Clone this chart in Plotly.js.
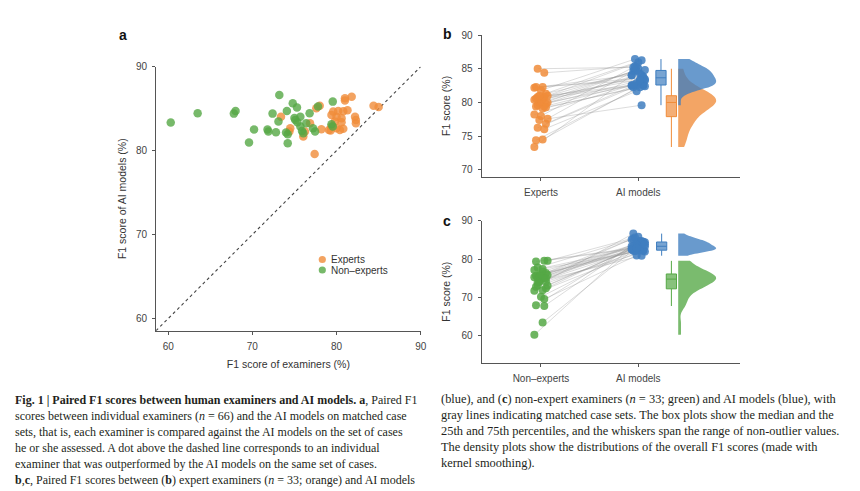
<!DOCTYPE html>
<html><head><meta charset="utf-8">
<script src="https://cdn.plot.ly/plotly-3.0.1.min.js"></script>
<style>html,body{margin:0;padding:0;background:#fff;}#chart{width:860px;height:491px;}</style>
</head><body><div id="chart"></div>
<script>
// ---- data ----
const expertScores   = [73.4, 74.5, 74.4, 76.05, 76.25, 76.85, 77.4, 77.6, 78.0, 78.2, 79.1, 79.4, 79.4, 79.6, 79.8, 80.0, 80.0, 80.2, 80.4, 80.6, 80.6, 80.8, 80.8, 81.3, 81.0, 81.0, 81.8, 82.2, 82.3, 82.3, 84.4, 85.0, 79.3];
const expertAIScores = [84.05, 82.67, 82.27, 81.68, 82.27, 83.27, 79.6, 85.05, 85.36, 82.56, 82.47, 84.26, 82.87, 84.65, 83.46, 84.05, 82.67, 84.73, 82.47, 83.86, 83.38, 84.7, 82.6, 84.8, 86.24, 85.96, 86.43, 84.05, 83.66, 83.27, 85.36, 85.2, 82.4];
const nonExpertScores   = [60.3, 63.5, 68.0, 67.8, 73.2, 72.4, 74.1, 73.1, 70.2, 71.8, 71.9, 72.8, 69.6, 74.0, 74.2, 74.2, 79.55, 74.8, 75.3, 76.8, 75.7, 75.1, 75.35, 76.4, 75.7, 75.9, 76.05, 77.2, 77.45, 79.4, 79.55, 77.8, 75.0];
const nonExpertAIScores = [83.34, 84.46, 84.73, 84.41, 86.64, 84.41, 84.73, 83.46, 82.51, 82.51, 82.27, 82.2, 80.96, 82.15, 81.96, 80.89, 85.84, 85.65, 85.13, 84.46, 84.05, 83.66, 83.39, 83.27, 82.87, 82.35, 82.08, 82.67, 82.27, 83.15, 82.87, 85.25, 83.9];
const groupLabelsB = ['Experts', 'AI models'];
const groupLabelsC = ['Non–experts', 'AI models'];
const legendLabels = ['Experts', 'Non–experts'];
const ticksA = [60, 70, 80, 90];
const ticksB = [70, 75, 80, 85, 90];
const ticksC = [60, 70, 80, 90];
const captionLeft = [
  '<b>Fig. 1 | Paired F1 scores between human examiners and AI models. a</b>, Paired F1',
  'scores between individual examiners (<i>n</i> = 66) and the AI models on matched case',
  'sets, that is, each examiner is compared against the AI models on the set of cases',
  'he or she assessed. A dot above the dashed line corresponds to an individual',
  'examiner that was outperformed by the AI models on the same set of cases.',
  '<b>b</b>,<b>c</b>, Paired F1 scores between (<b>b</b>) expert examiners (<i>n</i> = 33; orange) and AI models'
];
const captionRight = [
  '(blue), and (<b>c</b>) non-expert examiners (<i>n</i> = 33; green) and AI models (blue), with',
  'gray lines indicating matched case sets. The box plots show the median and the',
  '25th and 75th percentiles, and the whiskers span the range of non-outlier values.',
  'The density plots show the distributions of the overall F1 scores (made with',
  'kernel smoothing).'
];

// ---- styling ----
const W = 860, H = 491;
const px = x => x / W, py = y => 1 - y / H;
const ORANGE = '#F08C3A', GREEN = '#55A845', BLUE = '#3F7EBF';
const rgba = (hex, a) => {
  const n = parseInt(hex.slice(1), 16);
  return `rgba(${n >> 16},${(n >> 8) & 255},${n & 255},${a})`;
};
const SANS = 'Liberation Sans, Arial, sans-serif';
const SERIF = 'Liberation Serif, Times New Roman, serif';
const rangeA = [58.55, 90];

// deterministic horizontal jitter for the strip points
const jitA = i => (((i * 5) % 9) - 4) * 0.017;
const jitB = i => (((i * 7) % 9) - 4) * 0.017;

function pairedTraces(hum, ai, color, xa, ya) {
  const lx = [], ly = [];
  hum.forEach((v, i) => { lx.push(jitA(i), 1 + jitB(i), null); ly.push(v, ai[i], null); });
  return [
    {type: 'scatter', mode: 'lines', x: lx, y: ly, xaxis: xa, yaxis: ya, hoverinfo: 'skip',
     line: {color: 'rgba(150,150,150,0.33)', width: 1}, showlegend: false},
    {type: 'scatter', mode: 'markers', x: hum.map((v, i) => jitA(i)), y: hum, xaxis: xa, yaxis: ya,
     marker: {color: color, size: 8, opacity: 0.85}, showlegend: false},
    {type: 'scatter', mode: 'markers', x: ai.map((v, i) => 1 + jitB(i)), y: ai, xaxis: xa, yaxis: ya,
     marker: {color: BLUE, size: 8, opacity: 0.85}, showlegend: false}
  ];
}
function violin(vals, color, xa, ya) {
  return {type: 'violin', y: vals, x0: 1.41, xaxis: xa, yaxis: ya, side: 'positive', width: 0.78,
    spanmode: 'hard', points: false, box: {visible: false}, meanline: {visible: false},
    fillcolor: rgba(color, 0.78), line: {color: rgba(color, 0.0), width: 0}, showlegend: false, hoverinfo: 'skip'};
}
function box(vals, color, pos, xa, ya) {
  return {type: 'box', y: vals, x0: pos, xaxis: xa, yaxis: ya, width: 0.105, boxpoints: 'outliers',
    marker: {opacity: 0, size: 1}, whiskerwidth: 0, fillcolor: rgba(color, 0.7),
    line: {color: color, width: 1}, showlegend: false};
}

const traces = [
  {type: 'scatter', mode: 'lines', x: rangeA, y: rangeA, xaxis: 'x', yaxis: 'y',
   line: {color: '#444', width: 1.1, dash: '3px,3px'}, hoverinfo: 'skip', showlegend: false},
  {type: 'scatter', mode: 'markers', x: expertScores, y: expertAIScores, xaxis: 'x', yaxis: 'y',
   name: legendLabels[0], marker: {color: ORANGE, size: 8.5, opacity: 0.8}, showlegend: false},
  {type: 'scatter', mode: 'markers', x: nonExpertScores, y: nonExpertAIScores, xaxis: 'x', yaxis: 'y',
   name: legendLabels[1], marker: {color: GREEN, size: 8.5, opacity: 0.8}, showlegend: false},
  ...pairedTraces(expertScores, expertAIScores, ORANGE, 'x2', 'y2'),
  violin(expertScores, ORANGE, 'x2', 'y2'),
  violin(expertAIScores, BLUE, 'x2', 'y2'),
  box(expertAIScores, BLUE, 1.233, 'x2', 'y2'),
  box(expertScores, ORANGE, 1.34, 'x2', 'y2'),
  ...pairedTraces(nonExpertScores, nonExpertAIScores, GREEN, 'x3', 'y3'),
  violin(nonExpertAIScores, BLUE, 'x3', 'y3'),
  violin(nonExpertScores, GREEN, 'x3', 'y3'),
  box(nonExpertAIScores, BLUE, 1.24, 'x3', 'y3'),
  box(nonExpertScores, GREEN, 1.34, 'x3', 'y3')
];

const axBase = {showline: true, linecolor: '#555', linewidth: 1, ticks: 'outside', ticklen: 3,
  tickcolor: '#555', showgrid: false, zeroline: false, tickfont: {family: SANS, size: 10, color: '#444'},
  ticklabelstandoff: 3, fixedrange: true};
const titleFont = {family: SANS, size: 10.5, color: '#333'};

const annotations = [];
const letter = (t, x, y) => annotations.push({text: '<b>' + t + '</b>', xref: 'paper', yref: 'paper',
  x: px(x), y: py(y), xanchor: 'center', yanchor: 'middle', showarrow: false,
  font: {family: SANS, size: 14, color: '#111'}});
letter('a', 123, 35); letter('b', 447, 34); letter('c', 447, 221);
legendLabels.forEach((t, i) => annotations.push({text: t, xref: 'paper', yref: 'paper',
  x: px(329), y: py(259.5 + i * 10.5), xanchor: 'left', yanchor: 'middle', showarrow: false,
  font: {family: SANS, size: 10, color: '#333'}}));
captionLeft.forEach((t, i) => annotations.push({text: t, xref: 'paper', yref: 'paper',
  x: px(13), y: py(400 + i * 16), xanchor: 'left', yanchor: 'middle', showarrow: false,
  font: {family: SERIF, size: 12, color: '#231f20'}}));
captionRight.forEach((t, i) => annotations.push({text: t, xref: 'paper', yref: 'paper',
  x: px(439), y: py(399 + i * 16), xanchor: 'left', yanchor: 'middle', showarrow: false,
  font: {family: SERIF, size: 12.4, color: '#231f20'}}));

const shapes = [ORANGE, GREEN].map((c, i) => ({type: 'circle', xref: 'paper', yref: 'paper',
  x0: px(322.3 - 3.6), x1: px(322.3 + 3.6), y0: py(259.5 + i * 10.5 + 3.6), y1: py(259.5 + i * 10.5 - 3.6),
  fillcolor: c, opacity: 0.8, line: {width: 0}}));

const layout = {
  width: W, height: H, margin: {l: 0, r: 0, t: 0, b: 0}, paper_bgcolor: '#fff', plot_bgcolor: 'rgba(0,0,0,0)',
  showlegend: false, boxmode: 'overlay', violinmode: 'overlay',
  xaxis: {...axBase, domain: [px(156), px(420.7)], range: rangeA, tickvals: ticksA, anchor: 'y',
    title: {text: 'F1 score of examiners (%)', font: titleFont, standoff: 9}},
  yaxis: {...axBase, domain: [py(330.7), py(66.7)], range: rangeA, tickvals: ticksA, anchor: 'x',
    title: {text: 'F1 score of AI models (%)', font: titleFont, standoff: 7}},
  xaxis2: {...axBase, domain: [px(481.7), px(740)], range: [-0.609, 2.045], tickvals: [0, 1],
    ticktext: groupLabelsB, anchor: 'y2'},
  yaxis2: {...axBase, domain: [py(176.7), py(35)], range: [69, 90], tickvals: ticksB, anchor: 'x2',
    title: {text: 'F1 score (%)', font: titleFont, standoff: 8}},
  xaxis3: {...axBase, domain: [px(481.7), px(740)], range: [-0.609, 2.045], tickvals: [0, 1],
    ticktext: groupLabelsC, anchor: 'y3'},
  yaxis3: {...axBase, domain: [py(362.7), py(220.7)], range: [53.05, 90], tickvals: ticksC, anchor: 'x3',
    title: {text: 'F1 score (%)', font: titleFont, standoff: 8}},
  annotations: annotations, shapes: shapes
};

Plotly.newPlot('chart', traces, layout, {displayModeBar: false, staticPlot: true});
</script></body></html>
